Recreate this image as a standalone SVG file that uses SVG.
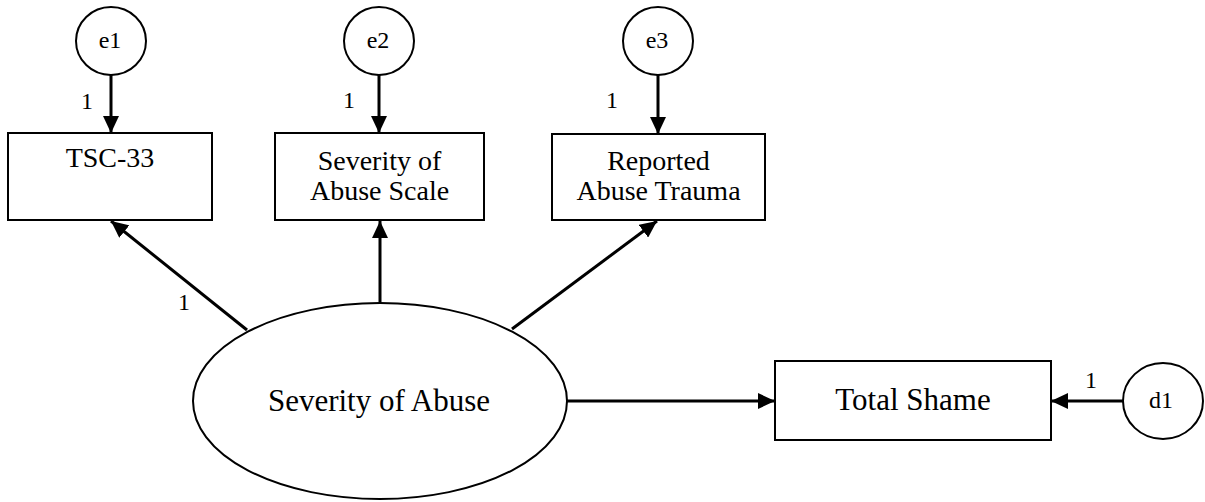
<svg xmlns="http://www.w3.org/2000/svg" width="1205" height="502" viewBox="0 0 1205 502">
<style>
.shape{fill:#fff;stroke:#000;stroke-width:2}
.lbl{font-family:"Liberation Serif",serif;fill:#000;text-anchor:middle}
.box{font-size:28px}
.big{font-size:31px}
.err{font-size:24px}
.one{font-size:24px}
.conn{stroke:#000;stroke-width:3;fill:none;marker-end:url(#arr)}
</style>
<defs>
<marker id="arr" markerUnits="userSpaceOnUse" markerWidth="18" markerHeight="16" viewBox="0 0 18 16" refX="17" refY="8" orient="auto">
<path d="M0,0 L17,8 L0,16 Z" fill="#000"/>
</marker>
</defs>
<g id="connectors">
<line class="conn" x1="111" y1="75" x2="111" y2="133"/>
<line class="conn" x1="379" y1="75" x2="379" y2="133"/>
<line class="conn" x1="658" y1="75" x2="658" y2="134"/>
<line class="conn" x1="247" y1="330" x2="111" y2="221"/>
<line class="conn" x1="380" y1="302" x2="380" y2="221"/>
<line class="conn" x1="512" y1="329" x2="657" y2="221"/>
<line class="conn" x1="566" y1="401" x2="775" y2="401"/>
<line class="conn" x1="1123" y1="401" x2="1051" y2="401"/>
<text class="lbl one" x="87" y="109">1</text>
<text class="lbl one" x="349" y="108">1</text>
<text class="lbl one" x="612" y="108">1</text>
<text class="lbl one" x="184" y="310">1</text>
<text class="lbl one" x="1091" y="388">1</text>
</g>
<g id="e1">
<ellipse class="shape" cx="111" cy="41" rx="35" ry="34"/>
<text class="lbl err" x="110" y="48">e1</text>
</g>
<g id="e2">
<ellipse class="shape" cx="379" cy="41" rx="35" ry="34"/>
<text class="lbl err" x="378" y="48">e2</text>
</g>
<g id="e3">
<ellipse class="shape" cx="658" cy="41" rx="35" ry="34"/>
<text class="lbl err" x="657" y="48">e3</text>
</g>
<g id="tsc33">
<rect class="shape" x="8" y="133" width="204" height="87"/>
<text class="lbl box" x="110" y="167">TSC-33</text>
</g>
<g id="soas">
<rect class="shape" x="275" y="133" width="209" height="87"/>
<text class="lbl box" x="379.5" y="170">Severity of</text>
<text class="lbl box" x="379.5" y="200">Abuse Scale</text>
</g>
<g id="rat">
<rect class="shape" x="552" y="134" width="213" height="86"/>
<text class="lbl box" x="658.5" y="170">Reported</text>
<text class="lbl box" x="658.5" y="200">Abuse Trauma</text>
</g>
<g id="severity">
<ellipse class="shape" cx="380" cy="401" rx="187" ry="98"/>
<text class="lbl big" x="379" y="411">Severity of Abuse</text>
</g>
<g id="shame">
<rect class="shape" x="775" y="361" width="276" height="79"/>
<text class="lbl big" x="913" y="410">Total Shame</text>
</g>
<g id="d1">
<ellipse class="shape" cx="1163" cy="401" rx="40" ry="38"/>
<text class="lbl err" x="1161" y="408">d1</text>
</g>
</svg>
